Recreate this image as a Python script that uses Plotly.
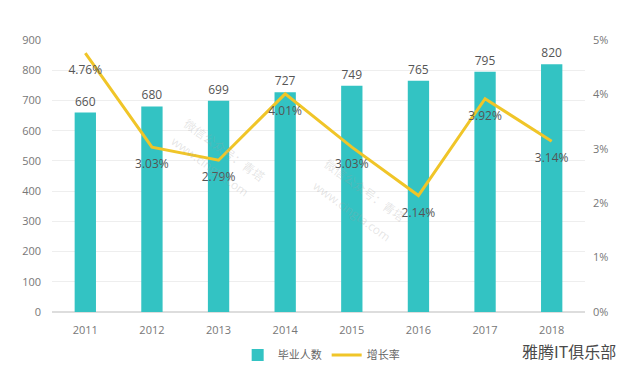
import plotly.graph_objects as go

years = ["2011", "2012", "2013", "2014", "2015", "2016", "2017", "2018"]
graduates = [660, 680, 699, 727, 749, 765, 795, 820]
growth = [0.0476, 0.0303, 0.0279, 0.0401, 0.0303, 0.0214, 0.0392, 0.0314]
growth_labels = ["4.76%", "3.03%", "2.79%", "4.01%", "3.03%", "2.14%", "3.92%", "3.14%"]

FONT = "Open Sans, Noto Sans CJK SC, sans-serif"

fig = go.Figure()
fig.add_trace(go.Bar(
    x=years, y=graduates, name="毕业人数",
    marker=dict(color="#33C3C3", line=dict(width=0)),
    text=[str(v) for v in graduates], textposition="outside",
    textfont=dict(size=12, color="#555555", family=FONT),
    cliponaxis=False,
))
fig.add_trace(go.Scatter(
    x=years, y=growth, name="增长率", yaxis="y2",
    mode="lines+markers+text",
    line=dict(color="#F0C528", width=3),
    marker=dict(size=18, color="rgba(0,0,0,0)", line=dict(width=0)),
    text=growth_labels, textposition="bottom center",
    textfont=dict(size=12, color="#555555", family=FONT),
    cliponaxis=False,
))

fig.update_layout(
    width=640, height=377,
    margin=dict(l=52, r=55, t=40, b=65, autoexpand=False),
    paper_bgcolor="white", plot_bgcolor="white",
    font=dict(family=FONT, color="#777777", size=11),
    bargap=0.68,
    showlegend=True,
    legend=dict(orientation="h", x=0.505, xanchor="center", yref="container",
                y=(377 - 355) / 377, yanchor="middle", itemwidth=30,
                font=dict(size=11, color="#666666"), traceorder="normal"),
    xaxis=dict(range=[-0.5, len(years) - 0.5], showgrid=False, showline=False, ticks="",
               ticklabelstandoff=10, automargin=False,
               tickfont=dict(size=11, color="#777777")),
    yaxis=dict(range=[0, 900], dtick=100, showgrid=True, gridcolor="#EEEEEE", automargin=False,
               zeroline=True, zerolinecolor="#DDDDDD", ticks="", ticklabelstandoff=10,
               tickfont=dict(size=11, color="#777777")),
    yaxis2=dict(range=[0, 0.05], dtick=0.01, tickformat=".0%", overlaying="y", side="right",
                showgrid=False, zeroline=False, ticks="", ticklabelstandoff=7, automargin=False,
                tickfont=dict(size=11, color="#777777")),
)

# faint watermarks
wm = "rgba(160,160,160,0.28)"
for txt, x, y in [("微信公众号：青塔", 0.236, 0.732), ("www.cingta.com", 0.212, 0.669),
                  ("微信公众号：青塔", 0.587, 0.309), ("www.cingta.com", 0.563, 0.235)]:
    fig.add_annotation(text=txt, x=x, y=y, xref="paper", yref="paper",
                       showarrow=False, textangle=36, font=dict(size=12, color=wm))

fig.add_annotation(text="雅腾IT俱乐部", x=1.062, y=-0.142, xref="paper", yref="paper",
                   xanchor="right", yanchor="middle", showarrow=False,
                   font=dict(size=16, color="#4A4A4A", family="Noto Sans CJK SC"))

fig.write_html("out.html", config={"displayModeBar": False},
               post_script="document.body.style.margin='0';")
